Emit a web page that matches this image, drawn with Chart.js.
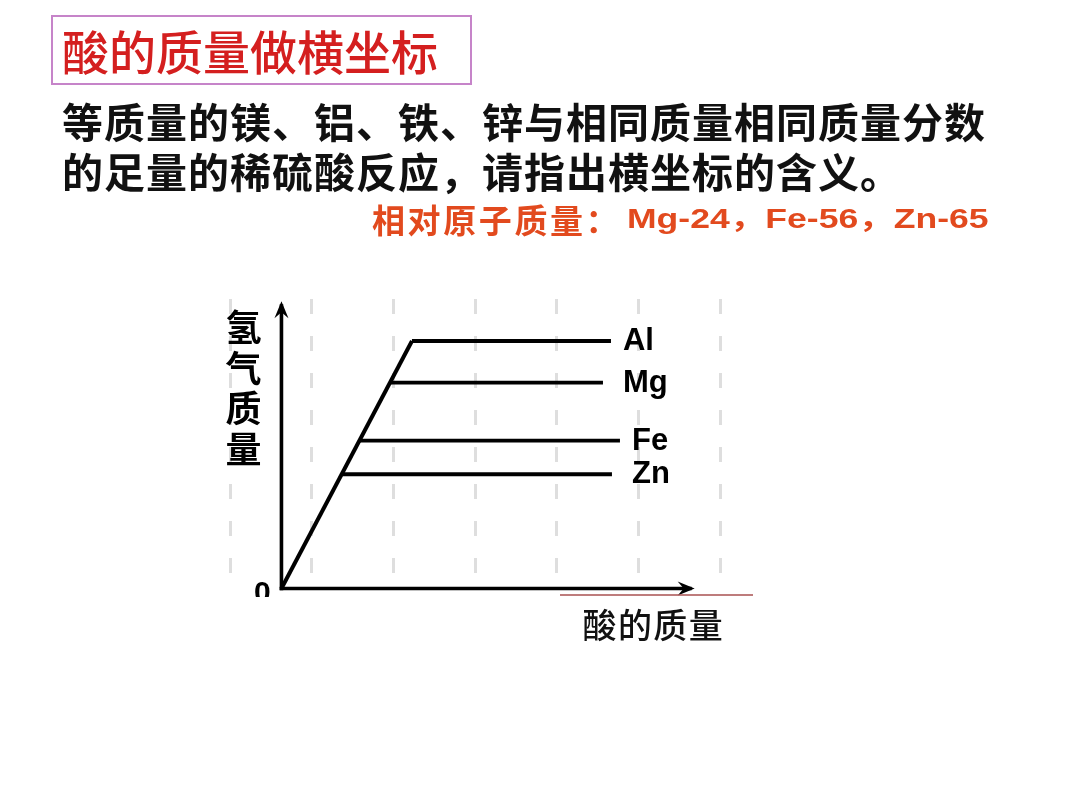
<!DOCTYPE html>
<html>
<head>
<meta charset="utf-8">
<script src="https://cdn.jsdelivr.net/npm/chart.js@4.4.1/dist/chart.umd.min.js"></script>
<style>
  html, body { margin: 0; padding: 0; background: #fff; }
  #wrap { position: relative; width: 1080px; height: 810px; overflow: hidden; }
  #chart { position: absolute; left: 0; top: 0; }
  .t { position: absolute; white-space: nowrap; font-family: "Noto Sans CJK SC", sans-serif; }
  #title { left: 51px; top: 15px; width: 408px; height: 66px; border: 2px solid #c684c9;
           color: #d41f1f; font-size: 47px; font-weight: 500; line-height: 66px; padding-left: 9px; }
  #para { left: 62px; top: 95px; color: #111; font-size: 41px; font-weight: 700; line-height: 50px; letter-spacing: 1px; }
  #massCn { left: 372px; top: 199px; color: #e24a1e; font-size: 33px; font-weight: 700; line-height: 40px; letter-spacing: 2.6px; }
  #massEn { left: 627px; top: 199px; color: #e24a1e; font-size: 28px; font-weight: 700; line-height: 40px;
            font-family: "Liberation Sans", "Noto Sans CJK SC", sans-serif; transform: scaleX(1.27); transform-origin: left center; }
</style>
</head>
<body>
<div id="wrap">
  <canvas id="chart" width="1080" height="810"></canvas>
  <div class="t" id="title">酸的质量做横坐标</div>
  <div class="t" id="para">等质量的镁、铝、铁、锌与相同质量相同质量分数<br>的足量的稀硫酸反应，请指出横坐标的含义。</div>
  <div class="t" id="massCn">相对原子质量：</div>
  <div class="t" id="massEn">Mg-24，Fe-56，Zn-65</div>
</div>
<script>
// metals and their hydrogen plateaus (arbitrary units)
const metals = ['Al', 'Mg', 'Fe', 'Zn'];
const h2Mass = [8.49, 7.06, 5.07, 3.92];
const plateauStart = [1.598, 1.335, 0.961, 0.741];
const plateauEnd = [4.035, 3.937, 4.145, 4.047];
// shared rising segment while acid is the limiting reagent
const riseX = [0, 1.598];
const riseY = [0, 8.49];

const xAxisTitle = '酸的质量';
const yAxisTitle = '氢气质量';

const datasets = [{
  label: 'rise',
  data: riseX.map((x, i) => ({ x: x, y: riseY[i] })),
  borderColor: '#000',
  borderWidth: 4,
}];
metals.forEach((m, i) => {
  datasets.push({
    label: m,
    data: [{ x: plateauStart[i], y: h2Mass[i] }, { x: plateauEnd[i], y: h2Mass[i] }],
    borderColor: '#000',
    borderWidth: 3.8,
  });
});

function arrow(ctx, x1, y1, x2, y2) {
  const a = Math.atan2(y2 - y1, x2 - x1);
  const c = Math.cos(a), s = Math.sin(a);
  ctx.beginPath();
  ctx.moveTo(x1, y1);
  ctx.lineTo(x2 - 3 * c, y2 - 3 * s);
  ctx.stroke();
  ctx.beginPath();
  ctx.moveTo(x2, y2);
  ctx.lineTo(x2 - 17 * c + 7 * s, y2 - 17 * s - 7 * c);
  ctx.lineTo(x2 - 11 * c, y2 - 11 * s);
  ctx.lineTo(x2 - 17 * c - 7 * s, y2 - 17 * s + 7 * c);
  ctx.closePath();
  ctx.fill();
}

const decor = {
  id: 'decor',
  afterDatasetsDraw(chart) {
    const ctx = chart.ctx;
    const xs = chart.scales.x, ys = chart.scales.y;
    const ox = xs.getPixelForValue(0), oy = ys.getPixelForValue(0);
    ctx.save();
    ctx.strokeStyle = '#000';
    ctx.fillStyle = '#000';
    ctx.lineWidth = 3.6;
    ctx.lineCap = 'butt';
    arrow(ctx, ox, oy + 1.8, ox, ys.getPixelForValue(9.85));
    arrow(ctx, ox - 1.8, oy, xs.getPixelForValue(5.06), oy);

    // metal names at the end of each plateau
    ctx.font = 'bold 31px "Liberation Sans", Arial, sans-serif';
    ctx.textBaseline = 'alphabetic';
    ctx.textAlign = 'left';
    metals.forEach((m, i) => {
      const dx = (m === 'Mg' || m === 'Zn') ? 20 : 12;
      ctx.fillText(m, xs.getPixelForValue(plateauEnd[i]) + dx, ys.getPixelForValue(h2Mass[i]) + 9);
    });

    // origin mark, cut off at the bottom as in the slide
    ctx.save();
    ctx.beginPath();
    ctx.rect(ox - 40, oy - 30, 38, 38.5);
    ctx.clip();
    ctx.textAlign = 'center';
    ctx.font = 'bold 30px "Liberation Sans", Arial, sans-serif';
    ctx.fillText('0', ox - 19, oy + 13);
    ctx.restore();

    // y axis title, stacked vertically
    ctx.font = 'bold 36px "Noto Sans CJK SC", sans-serif';
    ctx.textAlign = 'center';
    ctx.textBaseline = 'middle';
    [...yAxisTitle].forEach((c, i) => {
      ctx.fillText(c, ox - 38, oy - 261 + i * 40.5);
    });

    // x axis title with its thin underline above
    ctx.font = '500 34px "Noto Sans CJK SC", sans-serif';
    ctx.fillStyle = '#111';
    [...xAxisTitle].forEach((c, i) => {
      ctx.fillText(c, 599.5 + i * 35.4, oy + 37);
    });
    ctx.strokeStyle = '#a85050';
    ctx.lineWidth = 1.5;
    ctx.beginPath();
    ctx.moveTo(560, oy + 6.5);
    ctx.lineTo(753, oy + 6.5);
    ctx.stroke();
    ctx.restore();
  }
};

const ctx = document.getElementById('chart').getContext('2d');
const myChart = new Chart(ctx, {
  type: 'line',
  data: { datasets: datasets },
  options: {
    responsive: false,
    animation: false,
    devicePixelRatio: 1,
    layout: { padding: { left: 230, right: 360, top: 297, bottom: 221.5 } },
    elements: { point: { radius: 0 }, line: { tension: 0, borderCapStyle: 'butt' } },
    plugins: { legend: { display: false }, tooltip: { enabled: false } },
    scales: {
      x: {
        type: 'linear',
        min: -0.63,
        max: 5.37,
        afterBuildTicks: (scale) => {
          const t = [];
          for (let v = -0.63; v <= 5.38; v += 1) t.push({ value: v });
          scale.ticks = t;
        },
        ticks: { display: false },
        grid: { color: '#dedede', lineWidth: 3, drawTicks: false },
        border: { display: false, dash: [15, 22], dashOffset: -2 },
      },
      y: {
        type: 'linear',
        min: 0,
        max: 10,
        display: false,
      },
    },
  },
  plugins: [decor],
});
</script>
</body>
</html>
